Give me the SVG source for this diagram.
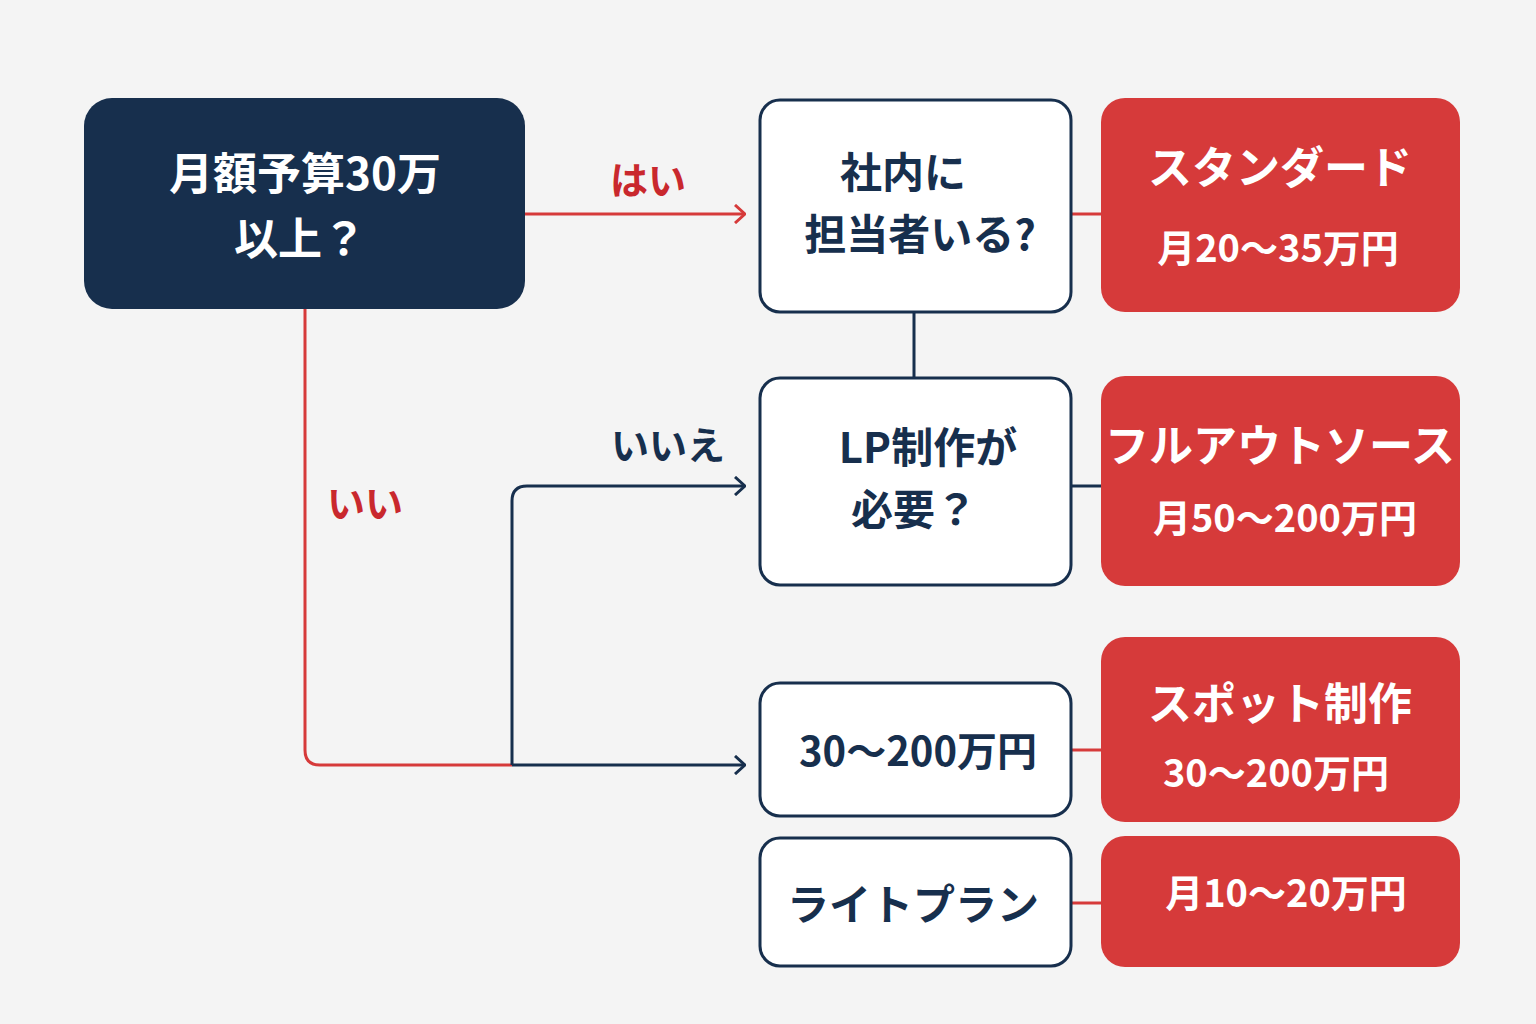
<svg xmlns="http://www.w3.org/2000/svg" width="1536" height="1024" viewBox="0 0 1536 1024">
<style>
text{font-family:"Noto Sans CJK JP","Noto Sans",sans-serif;font-weight:bold;text-anchor:middle}
.w{fill:#fff}.d{fill:#172f4d}.r{fill:#c9282d}
.box{fill:#fff;stroke:#172f4d;stroke-width:3}
.red{fill:#d63a3a}
.lr{stroke:#d63a3a;stroke-width:3;fill:none}
.ld{stroke:#172f4d;stroke-width:3;fill:none}
</style>
<defs>
<marker id="ar" viewBox="0 0 12 20" refX="11" refY="10" markerWidth="12" markerHeight="20" markerUnits="userSpaceOnUse" orient="auto"><path d="M1 1 L11 10 L1 19" fill="none" stroke="#d63a3a" stroke-width="3"/></marker>
<marker id="ad" viewBox="0 0 12 20" refX="11" refY="10" markerWidth="12" markerHeight="20" markerUnits="userSpaceOnUse" orient="auto"><path d="M1 1 L11 10 L1 19" fill="none" stroke="#172f4d" stroke-width="3"/></marker>
</defs>
<rect width="1536" height="1024" fill="#f4f4f4"/>
<g id="connectors">
<path class="lr" d="M525 214 H745" marker-end="url(#ar)"/>
<path class="lr" d="M1071 214 H1101"/>
<path class="ld" d="M914 312 V378"/>
<path class="ld" d="M1071 486 H1101"/>
<path class="lr" d="M305 309 V750 Q305 765 320 765 H512"/>
<path class="ld" d="M512 765 V501 Q512 486 527 486 H745" marker-end="url(#ad)"/>
<path class="ld" d="M512 765 H745" marker-end="url(#ad)"/>
<path class="lr" d="M1071 750 H1101"/>
<path class="lr" d="M1071 903 H1101"/>
<text x="648" y="194" font-size="38" class="r">はい</text>
<text x="365" y="517" font-size="38" class="r">いい</text>
<text x="668" y="459" font-size="38" class="d">いいえ</text>
</g>
<g id="start"><rect x="84" y="98" width="441" height="211" rx="28" fill="#172f4d"/>
<text x="305" y="190" font-size="44" class="w">月額予算30万</text><text x="300" y="255" font-size="44" class="w">以上？</text></g>
<g id="q1"><rect class="box" x="760" y="100" width="311" height="212" rx="20"/>
<text x="903" y="188" font-size="42" class="d">社内に</text><text x="920" y="250" font-size="42" class="d">担当者いる?</text></g>
<g id="r1"><rect class="red" x="1101" y="98" width="359" height="214" rx="24"/>
<text x="1280" y="184" font-size="44" class="w">スタンダード</text><text x="1278" y="262" font-size="38" class="w">月20〜35万円</text></g>
<g id="q2"><rect class="box" x="760" y="378" width="311" height="207" rx="20"/>
<text x="928" y="463" font-size="42" class="d">LP制作が</text><text x="914" y="525" font-size="42" class="d">必要？</text></g>
<g id="r2"><rect class="red" x="1101" y="376" width="359" height="210" rx="24"/>
<text x="1280" y="462" font-size="44" class="w">フルアウトソース</text><text x="1285" y="532" font-size="38" class="w">月50〜200万円</text></g>
<g id="q3"><rect class="box" x="760" y="683" width="311" height="133" rx="20"/>
<text x="918" y="766" font-size="40" class="d">30〜200万円</text></g>
<g id="r3"><rect class="red" x="1101" y="637" width="359" height="185" rx="24"/>
<text x="1280" y="720" font-size="44" class="w">スポット制作</text><text x="1276" y="787" font-size="38" class="w">30〜200万円</text></g>
<g id="q4"><rect class="box" x="760" y="838" width="311" height="128" rx="20"/>
<text x="913" y="920" font-size="42" class="d">ライトプラン</text></g>
<g id="r4"><rect class="red" x="1101" y="836" width="359" height="131" rx="24"/>
<text x="1286" y="907" font-size="38" class="w">月10〜20万円</text></g>
</svg>
